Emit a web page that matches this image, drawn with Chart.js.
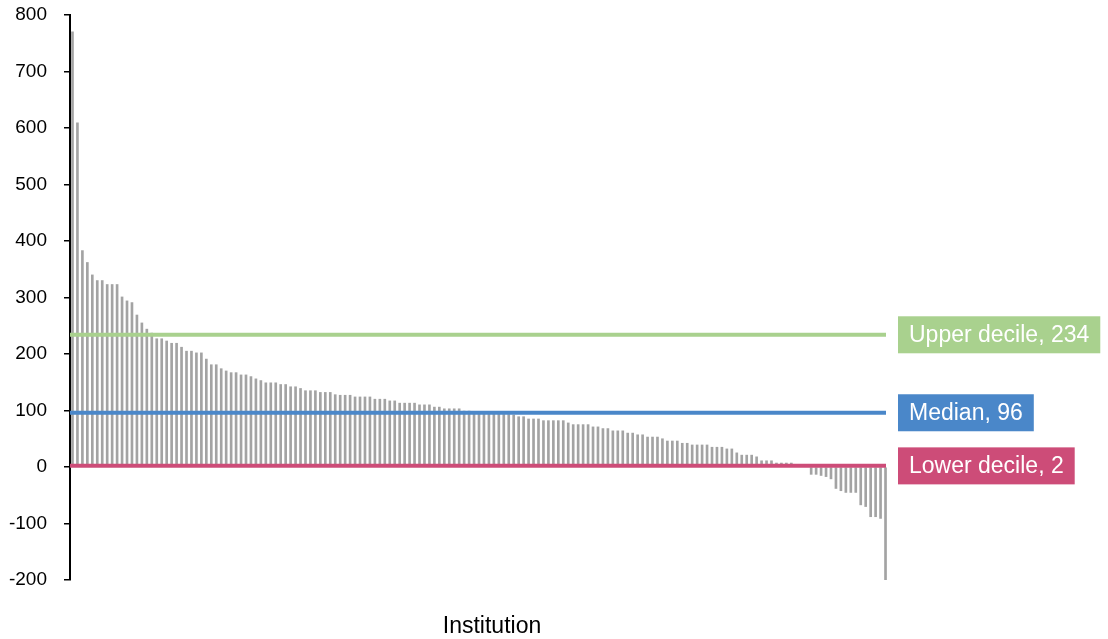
<!DOCTYPE html>
<html lang="en">
  <head>
    <meta charset="utf-8" />
    <style>
      * {
        margin: 0;
        padding: 0;
      }
      body {
        background: #fff;
      }
    </style>
  </head>
  <body>
    <canvas id="myChart" width="1108" height="639"></canvas>
    <script src="https://cdn.jsdelivr.net/npm/chart.js/dist/chart.umd.min.js"></script>
    <script>
      // values, sorted high to low
      const values = [
        770, 609, 383, 362, 340, 330, 330, 323, 323, 323,
        301, 294, 291, 269, 255, 244, 237, 227, 227, 223,
        219, 219, 212, 205, 205, 202, 202, 191, 181, 181,
        174, 170, 167, 167, 163, 163, 160, 156, 153, 149,
        149, 149, 146, 146, 142, 142, 139, 135, 135, 135,
        132, 132, 132, 128, 127, 127, 127, 124, 124, 124,
        124, 120, 120, 120, 117, 117, 113, 113, 113, 113,
        110, 110, 110, 106, 106, 103, 103, 103, 103, 99,
        99, 97, 96, 95, 95, 94, 94, 93, 93, 92,
        89, 89, 85, 85, 85, 82, 82, 82, 82, 82,
        78, 75, 75, 75, 75, 71, 71, 68, 68, 64,
        64, 64, 60, 60, 57, 57, 53, 53, 53, 50,
        46, 46, 46, 42, 42, 39, 39, 39, 39, 35,
        35, 35, 32, 32, 25, 21, 21, 21, 18, 11,
        11, 11, 7, 7, 7, 7, 4, 3, 2, -13,
        -13, -15, -17, -21, -38, -42, -45, -45, -45, -67,
        -70, -88, -88, -91, -200,
      ];
      const institutions = values.map((_, i) => "Institution " + (i + 1));
      const axisTitle = "Institution";

      // reference lines
      const refNames = ["Upper decile", "Median", "Lower decile"];
      const refValues = [234, 96, 2];
      const refColors = ["#a9d18e", "#4a87c9", "#cd4c78"];

      const font = "'Liberation Sans', Arial, sans-serif";

      const refLines = {
        id: "refLines",
        afterDatasetsDraw(chart) {
          const { ctx, chartArea, scales } = chart;
          ctx.save();
          ctx.font = "23px " + font;
          ctx.textBaseline = "middle";
          refValues.forEach((v, i) => {
            const y = scales.y.getPixelForValue(v);
            ctx.strokeStyle = refColors[i];
            ctx.lineWidth = 4;
            ctx.beginPath();
            ctx.moveTo(chartArea.left, y);
            ctx.lineTo(chartArea.right - 2, y);
            ctx.stroke();

            const text = refNames[i] + ", " + v;
            const w = ctx.measureText(text).width + 22;
            const x0 = chartArea.right + 10;
            ctx.fillStyle = refColors[i];
            ctx.fillRect(x0, y - 18.5, w, 37);
            ctx.fillStyle = "#fff";
            ctx.fillText(text, x0 + 11, y + 1);
          });

          // x axis title, sits a bit right of the plot centre in the original
          ctx.fillStyle = "#000";
          ctx.font = "23px " + font;
          ctx.textAlign = "center";
          ctx.fillText(axisTitle, 492, 627);
          ctx.restore();
        },
      };

      const config = {
        type: "bar",
        data: {
          labels: institutions,
          datasets: [
            {
              data: values,
              backgroundColor: "#a3a3a3",
              barThickness: 2,
            },
          ],
        },
        options: {
          responsive: false,
          animation: false,
          devicePixelRatio: 1,
          layout: {
            padding: { left: 0, right: 220, top: 15, bottom: 51 },
          },
          plugins: {
            legend: { display: false },
            tooltip: { enabled: false },
          },
          scales: {
            x: {
              ticks: { display: false },
              grid: { display: false },
              border: { display: false },
            },
            y: {
              min: -200,
              max: 800,
              ticks: {
                stepSize: 100,
                color: "#000",
                padding: 17,
                font: { family: font, size: 19 },
              },
              grid: {
                drawOnChartArea: false,
                tickLength: 6,
                color: "#000",
                lineWidth: 1.5,
              },
              border: { color: "#000", width: 2 },
              afterFit: (scale) => {
                scale.width = 70;
                scale.paddingTop = 0;
                scale.paddingBottom = 0;
              },
            },
          },
        },
        plugins: [refLines],
      };

      const myChart = new Chart(document.getElementById("myChart"), config);
    </script>
  </body>
</html>
